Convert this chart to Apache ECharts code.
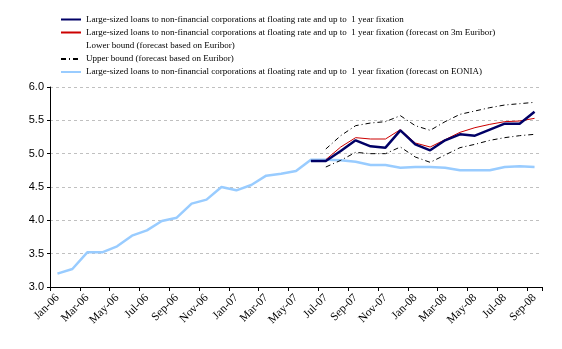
<!DOCTYPE html>
<html>
<head>
<meta charset="utf-8">
<script src="https://cdn.jsdelivr.net/npm/echarts@6/dist/echarts.min.js"></script>
<style>html,body{margin:0;padding:0;background:#fff}#c{width:562px;height:349px}</style>
</head>
<body>
<div id="c"></div>
<script>
var categories = ['Jan-06','Feb-06','Mar-06','Apr-06','May-06','Jun-06','Jul-06','Aug-06','Sep-06','Oct-06','Nov-06','Dec-06',
  'Jan-07','Feb-07','Mar-07','Apr-07','May-07','Jun-07','Jul-07','Aug-07','Sep-07','Oct-07','Nov-07','Dec-07',
  'Jan-08','Feb-08','Mar-08','Apr-08','May-08','Jun-08','Jul-08','Aug-08','Sep-08'];
var N17 = [null,null,null,null,null,null,null,null,null,null,null,null,null,null,null,null,null];
var actual = N17.concat([4.89,4.89,5.04,5.20,5.11,5.09,5.35,5.14,5.05,5.20,5.29,5.27,5.36,5.45,5.45,5.63]);
var forecastEuribor = N17.concat([null,4.91,5.10,5.24,5.22,5.22,5.36,5.16,5.10,5.21,5.32,5.39,5.44,5.48,5.49,5.53]);
var lowerBound = N17.concat([null,4.80,4.90,5.02,5.00,5.00,5.10,4.95,4.87,4.98,5.09,5.14,5.20,5.24,5.27,5.29]);
var upperBound = N17.concat([null,5.07,5.27,5.42,5.46,5.48,5.57,5.42,5.35,5.48,5.59,5.64,5.69,5.73,5.75,5.77]);
var forecastEonia = [3.20,3.27,3.52,3.52,3.61,3.77,3.85,3.99,4.04,4.25,4.31,4.50,
  4.45,4.53,4.67,4.70,4.74,4.91,4.91,4.90,4.88,4.83,4.83,4.79,
  4.80,4.80,4.79,4.75,4.75,4.75,4.80,4.81,4.80];
var names = [
  'Large-sized loans to non-financial corporations at floating rate and up to  1 year fixation',
  'Large-sized loans to non-financial corporations at floating rate and up to  1 year fixation (forecast on 3m Euribor)',
  'Lower bound (forecast based on Euribor)',
  'Upper bound (forecast based on Euribor)',
  'Large-sized loans to non-financial corporations at floating rate and up to  1 year fixation (forecast on EONIA)'
];
var yTicks = [3.0,3.5,4.0,4.5,5.0,5.5,6.0];

var chart = echarts.init(document.getElementById('c'), null, {renderer:'canvas'});
var dashDot = [5,3,1,3];
chart.setOption({
  animation:false,
  backgroundColor:'#fff',
  grid:{left:50,right:20,top:87,bottom:62,containLabel:false},
  legend:{
    orient:'vertical', left:55, top:10, itemWidth:20, itemHeight:10, itemGap:4,
    itemStyle:{opacity:0},
    textStyle:{fontFamily:'Liberation Serif', fontSize:9, color:'#000'},
    data:[
      {name:names[0]},
      {name:names[1]},
      {name:names[2], icon:'none'},
      {name:names[3]},
      {name:names[4]}
    ]
  },
  xAxis:{
    type:'category', data:categories, boundaryGap:true,
    axisLine:{lineStyle:{color:'#000',width:1}},
    axisTick:{show:true, interval:1, length:4, lineStyle:{color:'#000'}},
    axisLabel:{interval:1, rotate:45, fontFamily:'Liberation Serif', fontSize:11.5, color:'#000', margin:9},
    splitLine:{show:false}
  },
  yAxis:{
    type:'value', min:yTicks[0], max:yTicks[yTicks.length-1], interval:0.5,
    axisLine:{show:true, lineStyle:{color:'#000',width:1}},
    axisTick:{show:true, length:3, lineStyle:{color:'#000'}},
    axisLabel:{formatter:function(v){return v.toFixed(1);}, fontFamily:'Liberation Sans', fontSize:11, color:'#000', margin:6},
    splitLine:{show:true, lineStyle:{color:'#c0c0c0', type:[3,3], width:1}}
  },
  series:[
    {name:names[4], type:'line', data:forecastEonia, symbol:'none', z:2,
      lineStyle:{color:'#99ccff', width:2.5}, itemStyle:{color:'#99ccff'}},
    {name:names[2], type:'line', data:lowerBound, symbol:'none', z:3,
      lineStyle:{color:'#000', width:1, type:dashDot}, itemStyle:{color:'#000'}},
    {name:names[3], type:'line', data:upperBound, symbol:'none', z:3,
      lineStyle:{color:'#000', width:1, type:dashDot}, itemStyle:{color:'#000'}},
    {name:names[1], type:'line', data:forecastEuribor, symbol:'none', z:4,
      lineStyle:{color:'#cc0000', width:1}, itemStyle:{color:'#cc0000'}},
    {name:names[0], type:'line', data:actual, symbol:'none', z:5,
      lineStyle:{color:'#000066', width:2.5}, itemStyle:{color:'#000066'}}
  ]
});
</script>
</body>
</html>
